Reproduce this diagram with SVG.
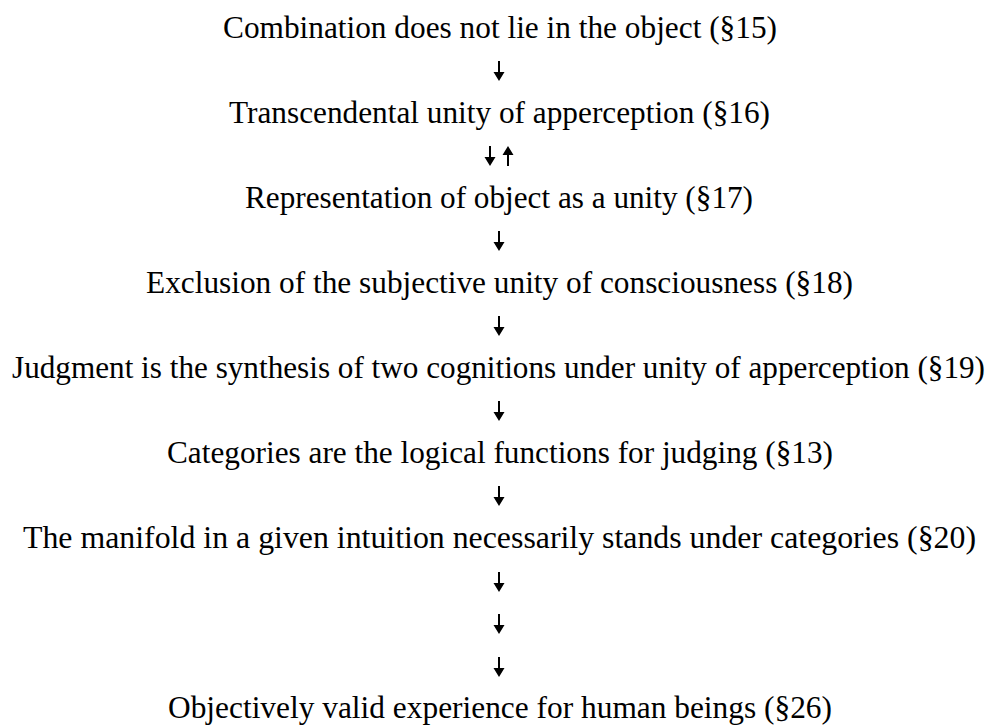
<svg xmlns="http://www.w3.org/2000/svg" width="994" height="725" viewBox="0 0 994 725">
<style>
text { font-family: "Liberation Serif", "Times New Roman", serif; font-size: 31.5px; fill: #000; text-anchor: middle; }
.arr { fill: #000; }
</style>
<defs>
<path id="down" class="arr" d="M-1,-20 H1 V-8 H-1 Z M-5.5,-9 L5.5,-9 L0,0 Z"/>
</defs>
<rect width="994" height="725" fill="#fff"/>
<g id="n1"><text x="500" y="38" textLength="554" lengthAdjust="spacingAndGlyphs">Combination does not lie in the object (§15)</text></g>
<g id="n2"><text x="499.5" y="123" textLength="541" lengthAdjust="spacingAndGlyphs">Transcendental unity of apperception (§16)</text></g>
<g id="n3"><text x="499" y="208" textLength="508" lengthAdjust="spacingAndGlyphs">Representation of object as a unity (§17)</text></g>
<g id="n4"><text x="499.5" y="293" textLength="707" lengthAdjust="spacingAndGlyphs">Exclusion of the subjective unity of consciousness (§18)</text></g>
<g id="n5"><text x="498.5" y="378" textLength="973" lengthAdjust="spacingAndGlyphs">Judgment is the synthesis of two cognitions under unity of apperception (§19)</text></g>
<g id="n6"><text x="500" y="463" textLength="666" lengthAdjust="spacingAndGlyphs">Categories are the logical functions for judging (§13)</text></g>
<g id="n7"><text x="499.5" y="548" textLength="953" lengthAdjust="spacingAndGlyphs">The manifold in a given intuition necessarily stands under categories (§20)</text></g>
<g id="n8"><text x="500" y="718" textLength="664" lengthAdjust="spacingAndGlyphs">Objectively valid experience for human beings (§26)</text></g>
<g id="connectors">
<use href="#down" transform="translate(499,81)"/>
<use href="#down" transform="translate(490,166)"/>
<use href="#down" transform="translate(508,146) rotate(180)"/>
<use href="#down" transform="translate(499,251)"/>
<use href="#down" transform="translate(499,336)"/>
<use href="#down" transform="translate(499,421)"/>
<use href="#down" transform="translate(499,506)"/>
<use href="#down" transform="translate(499,592)"/>
<use href="#down" transform="translate(499,634)"/>
<use href="#down" transform="translate(499,677)"/>
</g>
</svg>
